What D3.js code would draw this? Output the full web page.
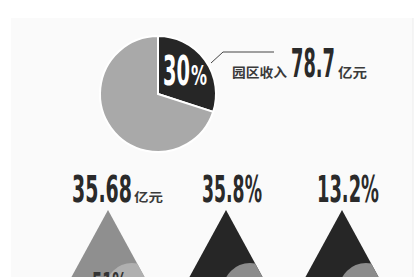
<!DOCTYPE html>
<html>
<head>
<meta charset="utf-8">
<script src="https://cdn.jsdelivr.net/npm/d3@7"></script>
<style>
  body { margin: 0; background: #fff; }
  svg { display: block; }
  .num { font-family: "DejaVu Sans", sans-serif; font-weight: bold; }
  .cjk { font-family: "Noto Sans CJK SC", sans-serif; font-weight: bold; }
</style>
</head>
<body>
<div id="chart"></div>
<script>
// top pie: share of park income
const pieLabels = ["园区", "其他"];
const pieValues = [30, 70];
const pieText = "30";
const incomeLabel = "园区收入";
const incomeValue = "78.7";
const incomeUnit = "亿元";

// bottom triangles
const triValues = ["35.68", "35.8%", "13.2%"];
const triUnits = ["亿元", "", ""];
const triInner = ["51%", "", ""];   // mostly hidden under the bottom edge

const W = 420, H = 277;
const svg = d3.select("#chart").append("svg").attr("width", W).attr("height", H);

/** draws a text squeezed into the box starting at x with width w (baseline y) */
function fitText(parent, cls, str, x, y, size, w, fill) {
    let t = parent.append("text").classed(cls, true)
        .attr("font-size", size).attr("fill", fill).text(str);
    let natural = t.node().getComputedTextLength();
    let k = w / natural;
    t.attr("transform", "translate(" + x + "," + y + ") scale(" + k + ",1)");
    return t;
}

// faint panel behind the graphic
svg.append("rect").attr("x", 11).attr("y", 18).attr("width", 402).attr("height", H - 18)
    .attr("fill", "#fafafa");
svg.append("line").attr("x1", 413).attr("x2", 413).attr("y1", 18).attr("y2", H)
    .attr("stroke", "#ececec");

// ---------- pie ----------
const cx = 158, cy = 94, r = 58;
let pie = d3.pie().sort(null).value(d => d);
let arc = d3.arc().innerRadius(0).outerRadius(r);
let pieG = svg.append("g").attr("transform", "translate(" + cx + "," + cy + ")");
pieG.selectAll("path").data(pie(pieValues)).join("path")
    .attr("d", arc)
    .attr("fill", (d, i) => i == 0 ? "#262626" : "#a9a9a9")
    .attr("stroke", "#fff")
    .attr("stroke-width", 2);

// "30%" inside the dark slice
fitText(svg, "num", pieText, 163, 85, 40, 27, "#fff");
fitText(svg, "num", "%", 191, 85, 26, 16, "#fff");

// leader line
svg.append("path")
    .attr("d", d3.line()([[211, 63], [223, 52], [274, 52]]))
    .attr("fill", "none").attr("stroke", "#444").attr("stroke-width", 1);

fitText(svg, "cjk", incomeLabel, 232, 77, 13, 55, "#3a3a3a");
fitText(svg, "num", incomeValue, 291, 77, 39, 44, "#2a2a2a");
fitText(svg, "cjk", incomeUnit, 338, 77, 13, 29, "#3a3a3a");

// ---------- triangles ----------
const apexX = [108, 226, 342];
const apexY = 210;
const triH = 110, triHalf = 60;
const valueWidths = [60, 60, 62];
const valueX = [72, 202, 317];
const triFill = ["#8f8f8f", "#262626", "#262626"];
const blobFill = ["#b0b0b0", "#8c8c8c", "#8c8c8c"];

let defs = svg.append("defs");
let blobArc = d3.arc().innerRadius(0).outerRadius(27);

for (let i = 0; i < triValues.length; i++) {
    let ax = apexX[i];
    let pts = [[ax, apexY], [ax + triHalf, apexY + triH], [ax - triHalf, apexY + triH]];
    defs.append("clipPath").attr("id", "tri" + i)
        .append("path").attr("d", d3.line()(pts) + "Z");

    let g = svg.append("g");
    g.append("path").attr("d", d3.line()(pts) + "Z").attr("fill", triFill[i]);

    // lighter round piece, cut by the triangle
    g.append("g").attr("clip-path", "url(#tri" + i + ")")
        .append("path")
        .attr("transform", "translate(" + (ax + 24) + "," + 290 + ")")
        .attr("d", blobArc({ startAngle: 0, endAngle: 2 * Math.PI }))
        .attr("fill", blobFill[i]);

    if (triInner[i]) {
        let tg = g.append("g").attr("clip-path", "url(#tri" + i + ")");
        fitText(tg, "num", triInner[i], ax - 16, 292, 26, 35, "#333");
    }

    fitText(svg, "num", triValues[i], valueX[i], 202, 37, valueWidths[i], "#2a2a2a");
    if (triUnits[i]) {
        fitText(svg, "cjk", triUnits[i], valueX[i] + valueWidths[i] + 2, 202, 12, 29, "#3a3a3a");
    }
}
</script>
</body>
</html>
